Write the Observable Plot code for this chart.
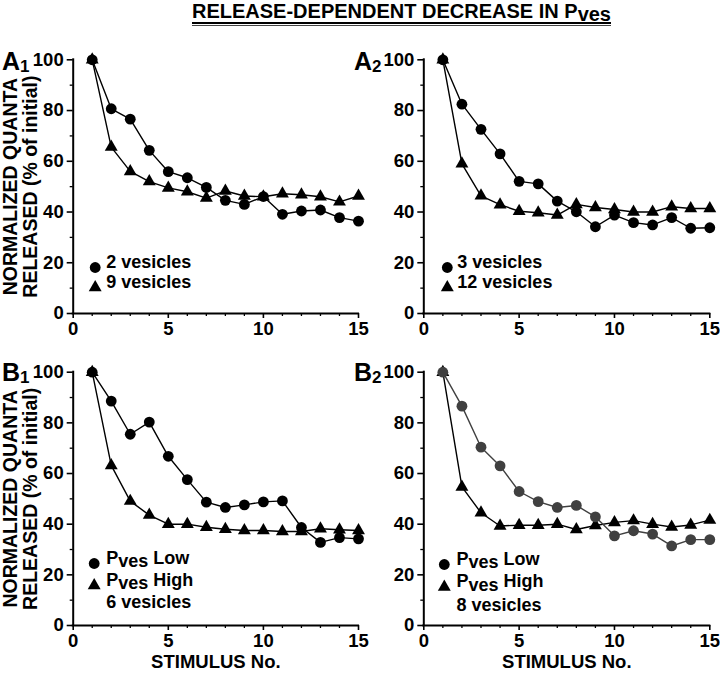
<!DOCTYPE html>
<html>
<head>
<meta charset="utf-8">
<script src="https://cdn.jsdelivr.net/npm/d3@7"></script>
<script src="https://cdn.jsdelivr.net/npm/@observablehq/plot@0.6"></script>
<style>
  body { margin: 0; background: #fff; }
  #fig { position: relative; width: 720px; height: 674px; overflow: hidden;
         font-family: "Liberation Sans", Arial, sans-serif; font-weight: bold; color: #000; }
  #title { position: absolute; left: 192px; top: 0px; font-size: 20px; line-height: 22px;
           padding-bottom: 0px; border-bottom: 2px solid #000; white-space: nowrap; }
  #title::after { content: ""; position: absolute; left: 0; right: 0; bottom: -4px; height: 1px; background: #444; }
  #title span { position: relative; top: 3px; }
  .panel { position: absolute; }
  .plabel { position: absolute; font-size: 25px; line-height: 28px; white-space: nowrap; }
  .plabel span { font-size: 17px; position: relative; top: 2px; }
</style>
</head>
<body>
<div id="fig">
  <div id="title">RELEASE-DEPENDENT DECREASE IN P<span>ves</span></div>
  <div class="plabel" style="left:2px;top:47px">A<span>1</span></div>
  <div class="plabel" style="left:354px;top:47px">A<span>2</span></div>
  <div class="plabel" style="left:2px;top:358px">B<span>1</span></div>
  <div class="plabel" style="left:354px;top:358px">B<span>2</span></div>
</div>
<script>
// ---- data ----
const stimulus = [1, 2, 3, 4, 5, 6, 7, 8, 9, 10, 11, 12, 13, 14, 15];

const a1Circle = [100, 80.7, 76.6, 64.3, 55.9, 53.5, 49.7, 44.6, 43.0, 46.1, 39.1, 40.4, 40.8, 37.8, 36.4];
const a1Triangle = [100, 65.6, 56.0, 52.0, 49.5, 48.0, 45.5, 48.3, 46.3, 46.0, 47.2, 46.8, 46.0, 44.0, 46.3];

const a2Circle = [100, 82.5, 72.6, 62.9, 52.1, 51.1, 44.3, 40.1, 34.2, 38.8, 35.8, 34.9, 37.8, 33.6, 33.8];
const a2Triangle = [100, 59.0, 46.4, 42.9, 40.3, 39.7, 38.8, 43.0, 41.8, 41.0, 40.0, 40.0, 42.1, 41.4, 41.4];

const b1Circle = [100, 88.6, 75.5, 80.3, 66.8, 57.6, 48.7, 46.6, 47.6, 48.8, 49.2, 38.7, 32.8, 34.7, 34.2];
const b1Triangle = [100, 63.2, 49.1, 43.6, 40.0, 40.0, 38.8, 38.0, 37.5, 37.5, 37.1, 37.1, 38.2, 37.8, 37.5];

const b2Circle = [100, 86.6, 70.4, 63.0, 52.9, 48.9, 46.6, 47.4, 42.9, 35.4, 37.4, 36.1, 31.4, 33.9, 33.9];
const b2Triangle = [100, 54.7, 44.5, 39.3, 39.6, 39.6, 40.0, 37.9, 39.5, 40.7, 41.4, 40.0, 38.9, 39.7, 41.6];

const a1Legend = ["2 vesicles", "9 vesicles"];
const a2Legend = ["3 vesicles", "12 vesicles"];
const b1Legend = ["Pves Low", "Pves High", "6 vesicles"];
const b2Legend = ["Pves Low", "Pves High", "8 vesicles"];

const xTicks = [0, 5, 10, 15];
const xMinorTicks = [1, 2, 3, 4, 6, 7, 8, 9, 11, 12, 13, 14];
const yTicks = [0, 20, 40, 60, 80, 100];
const yMinorTicks = [10, 30, 50, 70, 90];
const yLabel = "NORMALIZED QUANTA\nRELEASED (% of initial)";
const xLabel = "STIMULUS No.";

// ---- drawing ----
const toRows = (vals) => stimulus.map((s, i) => ({stim: s, value: vals[i]}));
const TICK_FS = 18.5, LEG_FS = 18;

function panel(cfg) {
  const {circles, triangles, legend, left, top, isLeft, isBottom, circleColor, leg} = cfg;
  const ml = isLeft ? 72.7 : 63.3, mr = isLeft ? 2 : 10.7;
  const mt = isBottom ? 34.7 : 59.3, mb = isBottom ? 49 : 24;
  const cRows = toRows(circles), tRows = toRows(triangles);
  const marks = [
    Plot.axisX({ticks: xTicks, tickSize: 5, tickPadding: 3, strokeWidth: 1.6, label: null, fontSize: TICK_FS}),
    Plot.axisX({ticks: xMinorTicks, tickSize: 3, text: null, label: null, strokeWidth: 1.3}),
    Plot.axisY({ticks: yTicks, tickSize: 6, tickPadding: 3.5, strokeWidth: 1.6, label: null, fontSize: TICK_FS}),
    Plot.axisY({ticks: yMinorTicks, tickSize: 3, text: null, label: null, strokeWidth: 1.3}),
    Plot.ruleY([0], {strokeWidth: 2, strokeLinecap: "square"}),
    Plot.ruleX([0], {strokeWidth: 2, strokeLinecap: "square"}),
    Plot.line(tRows, {x: "stim", y: "value", stroke: "#000", strokeWidth: 1.4}),
    Plot.line(cRows, {x: "stim", y: "value", stroke: circleColor, strokeWidth: 1.4}),
    Plot.dot(tRows, {x: "stim", y: "value", symbol: "triangle", r: 4.8, fill: "#000", stroke: null}),
    Plot.dot(cRows, {x: "stim", y: "value", r: 5.4, fill: circleColor, stroke: null}),
    // legend
    Plot.dot([legend[0]], {frameAnchor: "bottom-left", dx: leg.sx, dy: leg.y1, r: 5.4, fill: "#000", stroke: null}),
    Plot.dot([legend[1]], {frameAnchor: "bottom-left", dx: leg.sx, dy: leg.y2, symbol: "triangle", r: 4.8, fill: "#000", stroke: null}),
    Plot.text([legend[0]], {frameAnchor: "bottom-left", dx: leg.tx, dy: leg.y1, textAnchor: "start", fontSize: LEG_FS}),
    Plot.text([legend[1]], {frameAnchor: "bottom-left", dx: leg.tx, dy: leg.y2, textAnchor: "start", fontSize: LEG_FS})
  ];
  if (legend.length > 2) {
    marks.push(Plot.text([legend[2]], {frameAnchor: "bottom-left", dx: leg.tx, dy: leg.y3, textAnchor: "start", fontSize: LEG_FS}));
  }
  if (isLeft) {
    marks.push(Plot.text([yLabel], {frameAnchor: "left", dx: -52.7, rotate: -90, fontSize: 19.5, lineHeight: 1.05, textAnchor: "middle"}));
  }
  if (isBottom) {
    marks.push(Plot.text([xLabel], {frameAnchor: "bottom", dy: 42, fontSize: 18.5}));
  }
  const svg = Plot.plot({
    width: 360, height: 337,
    marginLeft: ml, marginRight: mr, marginTop: mt, marginBottom: mb,
    x: {domain: [0, 15]},
    y: {domain: [0, 100]},
    style: {fontFamily: '"Liberation Sans", Arial, sans-serif', fontWeight: "bold", fontSize: "18px",
            overflow: "visible", background: "transparent", color: "#000"},
    marks
  });
  // subscript "ves" in P_ves legend entries
  d3.select(svg).selectAll("text").each(function () {
    const t = this.textContent;
    if (this.childElementCount === 0 && t.startsWith("Pves")) {
      const rest = t.slice(4);
      this.textContent = "";
      const sel = d3.select(this);
      sel.append("tspan").text("P");
      sel.append("tspan").attr("dy", 3.5).text("ves");
      sel.append("tspan").attr("dy", -3.5).text(rest);
    }
  });
  svg.classList.add("panel");
  svg.style.left = left + "px";
  svg.style.top = top + "px";
  svg.style.position = "absolute";
  document.getElementById("fig").appendChild(svg);
}

panel({circles: a1Circle, triangles: a1Triangle, legend: a1Legend, left: 0, top: 0,
       isLeft: true, isBottom: false, circleColor: "#000",
       leg: {sx: 22, tx: 33, y1: -46, y2: -26}});
panel({circles: a2Circle, triangles: a2Triangle, legend: a2Legend, left: 360, top: 0,
       isLeft: false, isBottom: false, circleColor: "#000",
       leg: {sx: 23.5, tx: 33.5, y1: -46, y2: -26}});
panel({circles: b1Circle, triangles: b1Triangle, legend: b1Legend, left: 0, top: 337,
       isLeft: true, isBottom: true, circleColor: "#000",
       leg: {sx: 21, tx: 33, y1: -62, y2: -40, y3: -17.5}});
panel({circles: b2Circle, triangles: b2Triangle, legend: b2Legend, left: 360, top: 337,
       isLeft: false, isBottom: true, circleColor: "#404040",
       leg: {sx: 20.5, tx: 32.7, y1: -61, y2: -38.5, y3: -15}});
</script>
</body>
</html>
